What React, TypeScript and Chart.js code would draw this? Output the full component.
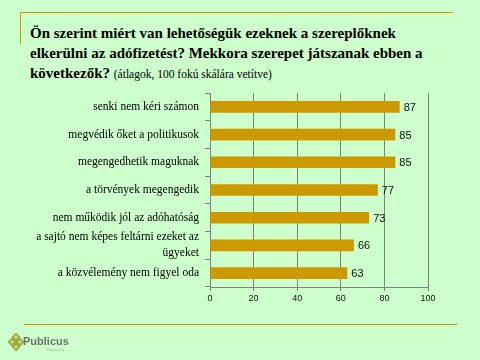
import React, { useEffect, useRef } from "react";
import { Chart, registerables } from "chart.js";

Chart.register(...registerables);

const categories: (string | string[])[] = [
  "senki nem kéri számon",
  "megvédik őket a politikusok",
  "megengedhetik maguknak",
  "a törvények megengedik",
  "nem működik jól az adóhatóság",
  ["a sajtó nem képes feltárni ezeket az", "ügyeket"],
  "a közvélemény nem figyel oda",
];
const values: number[] = [87, 85, 85, 77, 73, 66, 63];
const xTicks: number[] = [0, 20, 40, 60, 80, 100];

const titleLines: string[] = [
  "Ön szerint miért van lehetőségük ezeknek a szereplőknek",
  "elkerülni az adófizetést? Mekkora szerepet játszanak ebben a",
  "következők?",
];
const subtitle = "(átlagok, 100 fokú skálára vetítve)";

const BAR = "#CC9900";
const GRID = "#808080";
const SERIF = "'Liberation Serif', 'DejaVu Serif', serif";
const SANS = "'Liberation Sans', 'DejaVu Sans', sans-serif";

const valueLabels = {
  id: "valueLabels",
  afterDatasetsDraw(chart: any) {
    const ctx = chart.ctx;
    const meta = chart.getDatasetMeta(0);
    ctx.save();
    ctx.font = `11px ${SANS}`;
    ctx.fillStyle = "#111";
    ctx.textAlign = "left";
    ctx.textBaseline = "middle";
    meta.data.forEach((el: any, i: number) => {
      ctx.fillText(String(values[i]), el.x + 4, el.y + 1);
    });
    ctx.restore();
  },
};

export default function App() {
  const ref = useRef<HTMLCanvasElement>(null);
  useEffect(() => {
    if (!ref.current) return;
    const chart = new Chart(ref.current, {
      type: "bar",
      data: {
        labels: categories,
        datasets: [
          {
            data: values,
            backgroundColor: BAR,
            barPercentage: 0.42,
            categoryPercentage: 1,
          },
        ],
      },
      options: {
        indexAxis: "y",
        animation: false,
        responsive: false,
        maintainAspectRatio: false,
        layout: { padding: { left: 0, right: 52, top: 93, bottom: 40 } },
        plugins: { legend: { display: false }, tooltip: { enabled: false } },
        scales: {
          x: {
            min: 0,
            max: 100,
            afterBuildTicks: (s: any) => {
              s.ticks = xTicks.map((v) => ({ value: v }));
            },
            afterFit: (s: any) => {
              s.height = 33;
            },
            ticks: {
              font: { family: SANS, size: 9 },
              color: "#111",
              padding: 2,
            },
            grid: { color: GRID, lineWidth: 1, tickLength: 4 },
            border: { color: GRID, width: 1 },
          },
          y: {
            afterFit: (s: any) => {
              s.width = 210;
            },
            ticks: {
              autoSkip: false,
              font: { family: SERIF, size: 11.5, lineHeight: 1.4 },
              color: "#000",
              padding: 6,
            },
            grid: {
              offset: true,
              drawOnChartArea: false,
              color: GRID,
              tickLength: 5,
            },
            border: { color: GRID, width: 1 },
          },
        },
      },
      plugins: [valueLabels],
    });
    return () => chart.destroy();
  }, []);

  const diamond = (x: number, y: number) => (
    <div
      key={`${x}-${y}`}
      style={{
        position: "absolute",
        left: x,
        top: y,
        width: 4,
        height: 4,
        border: "1.5px solid #8a9a2a",
        background: "#c8d070",
        transform: "rotate(45deg)",
      }}
    />
  );

  return (
    <div
      style={{
        position: "fixed",
        left: 0,
        top: 0,
        width: 480,
        height: 360,
        background: "#CCFFCC",
        overflow: "hidden",
      }}
    >
      <div style={{ position: "absolute", left: 20, top: 12, width: 433, height: 1, background: BAR }} />
      <div style={{ position: "absolute", left: 20, top: 12, width: 1, height: 32, background: BAR }} />
      <div
        style={{
          position: "absolute",
          left: 30,
          top: 23,
          fontFamily: SERIF,
          fontWeight: "bold",
          fontSize: 15,
          lineHeight: "20px",
          color: "#000",
          whiteSpace: "nowrap",
        }}
      >
        {titleLines[0]}
        <br />
        {titleLines[1]}
        <br />
        {titleLines[2]}{" "}
        <span style={{ fontWeight: "normal", fontSize: 11.5 }}>{subtitle}</span>
      </div>
      <canvas ref={ref} width={480} height={360} style={{ position: "absolute", left: 0, top: 0 }} />
      <div style={{ position: "absolute", left: 24, top: 324, width: 433, height: 1, background: BAR }} />
      {diamond(13, 334)}
      {diamond(9, 339)}
      {diamond(17, 339)}
      {diamond(13, 344)}
      <div
        style={{
          position: "absolute",
          left: 23,
          top: 335,
          fontFamily: SANS,
          fontWeight: "bold",
          fontSize: 11,
          color: "#6e6e6e",
        }}
      >
        Publicus
      </div>
      <div
        style={{
          position: "absolute",
          left: 47,
          top: 347,
          fontFamily: SANS,
          fontSize: 4,
          color: "#aaaaaa",
        }}
      >
        Research
      </div>
    </div>
  );
}
